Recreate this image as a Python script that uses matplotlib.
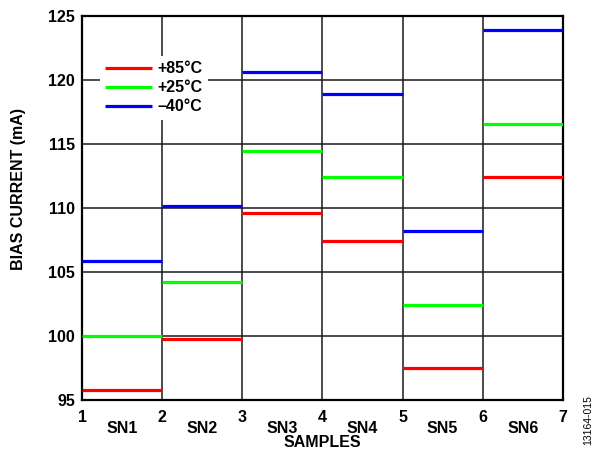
import matplotlib.pyplot as plt

plt.rcParams['font.family'] = ['Liberation Sans', 'DejaVu Sans']
plt.rcParams['font.weight'] = 'bold'

# sample boundaries and names
edges = [1, 2, 3, 4, 5, 6, 7]
samples = ['SN1', 'SN2', 'SN3', 'SN4', 'SN5', 'SN6']

# bias current (mA) per sample
i_85 = [95.8, 99.8, 109.6, 107.4, 97.5, 112.4]
i_25 = [100.0, 104.2, 114.5, 112.4, 102.4, 116.6]
i_m40 = [105.9, 110.2, 120.6, 118.9, 108.2, 123.9]

fig = plt.figure(figsize=(5.95, 4.49), dpi=100)
ax = fig.add_axes([0.138, 0.109, 0.808, 0.855])

series = [(i_85, '#ff0000', '+85°C'), (i_25, '#00ff00', '+25°C'), (i_m40, '#0000ff', '–40°C')]
for vals, col, lab in series:
    for k, v in enumerate(vals):
        ax.plot([edges[k], edges[k + 1]], [v, v], color=col, lw=2.3,
                solid_capstyle='butt', label=lab if k == 0 else None, zorder=3)

ax.set_xlim(1, 7)
ax.set_ylim(95, 125)
ax.set_xticks(edges)
ax.set_yticks(range(95, 126, 5))
ax.grid(True, color='#1a1a1a', lw=1.1)
ax.tick_params(length=0, labelsize=11.5)
ax.tick_params(axis='x', pad=7)
ax.tick_params(axis='y', pad=5)
for s in ax.spines.values():
    s.set_linewidth(1.6)

for k, name in enumerate(samples):
    ax.text(edges[k] + 0.5, -0.055, name, transform=ax.get_xaxis_transform(),
            ha='center', va='top', fontsize=11.5, fontweight='bold')

ax.set_xlabel('SAMPLES', fontsize=11.5, fontweight='bold', labelpad=7)
ax.set_ylabel('BIAS CURRENT (mA)', fontsize=11.5, fontweight='bold')
ax.yaxis.set_label_coords(-0.117, 0.55)

leg = ax.legend(loc='upper left', bbox_to_anchor=(0.02, 0.918), frameon=True,
                framealpha=1, edgecolor='white', fancybox=False, fontsize=11.5,
                handlelength=2.9, handletextpad=0.35, labelspacing=0.25, borderpad=0.35)
leg.get_frame().set_linewidth(0)

fig.text(0.988, 0.01, '13164-015', rotation=90, fontsize=7.5, fontweight='normal',
         ha='center', va='bottom')

fig.savefig('out.png', dpi=100)
